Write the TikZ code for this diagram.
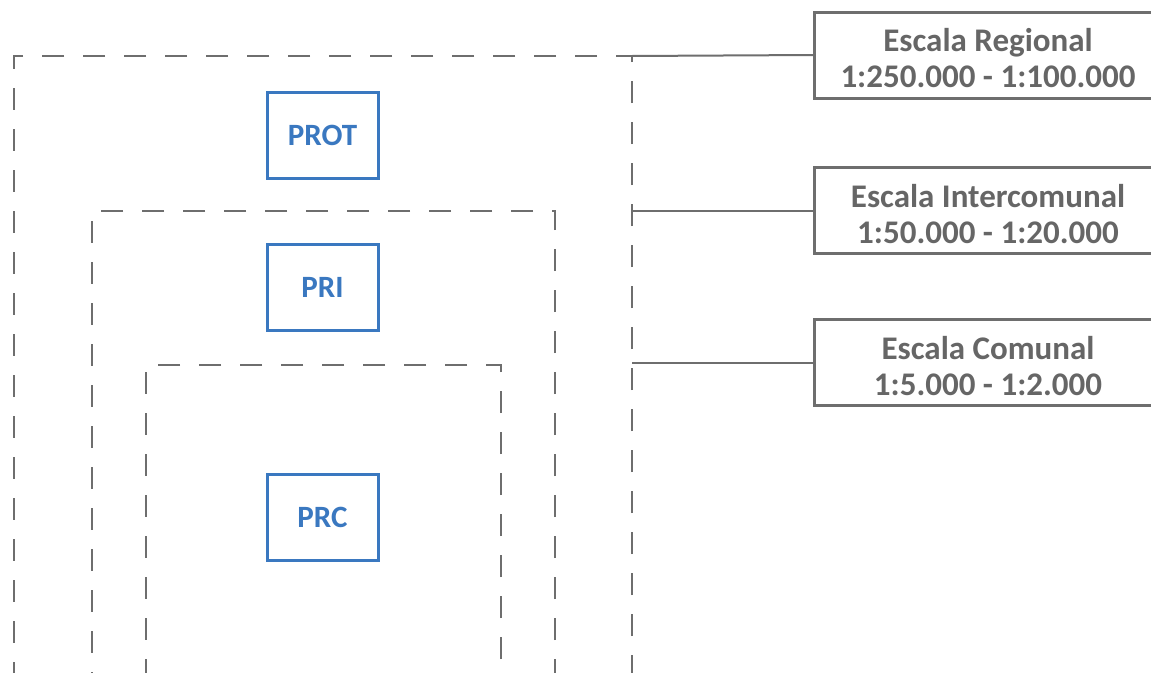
\documentclass[tikz,border=0pt]{standalone}
\usepackage{fontspec}
\setmainfont{Carlito}
\usetikzlibrary{positioning}

\definecolor{framegray}{HTML}{6E6E6E}
\definecolor{textgray}{HTML}{666666}
\definecolor{planblue}{HTML}{3A78C0}

% taller first line pushes the label text a bit down in its box
\newcommand{\lowstrut}{\rule{0pt}{30pt}}

\tikzset{
  frame/.style={draw=framegray, line width=2pt, dash pattern=on 22pt off 19pt,
    anchor=north west, inner sep=0pt, outer sep=0pt},
  scalebox/.style={draw=framegray, line width=3pt, text=textgray, align=center,
    font=\fontsize{33}{36}\selectfont\bfseries, minimum width=348pt,
    minimum height=86pt, inner sep=0pt, outer sep=0pt},
  planbox/.style={draw=planblue, line width=3pt, text=planblue,
    font=\fontsize{31}{34}\selectfont\bfseries, minimum width=111pt,
    minimum height=86pt, inner sep=0pt},
  link/.style={draw=framegray, line width=2pt}
}

\begin{document}
\begin{tikzpicture}[x=1pt,y=-1pt]
			%%%%% START %%%%%
			\def\w{1151}
			\def\h{672}
			\clip (0,0) rectangle (\w,\h);
			\fill[white] (0,0) rectangle (\w,\h);

			% nested plan levels, open at the bottom
			\node[frame, minimum width=618pt, minimum height=700pt] (regframe) at (14,56) {};
			\node[frame, minimum width=463pt, minimum height=540pt] (interframe) at (92,211) {};
			\node[frame, minimum width=355pt, minimum height=390pt] (comframe) at (146,365) {};

			\node[planbox] (prot) at (322.5,135) {PROT};
			\node[planbox] (pri) at (322.5,287) {PRI};
			\node[planbox] (prc) at (322.5,517) {PRC};

			% scale labels
			\node[scalebox] (regional) at (988,55) {\lowstrut Escala Regional\\1:250.000 - 1:100.000};
			\node[scalebox] (intercomunal) at (988,210.5) {\lowstrut Escala Intercomunal\\1:50.000 - 1:20.000};
			\node[scalebox] (comunal) at (988,362.5) {\lowstrut Escala Comunal\\1:5.000 - 1:2.000};

			\draw[link] (regframe.north east) -- (regional.west);
			\draw[link] (regframe.east |- intercomunal.west) -- (intercomunal.west);
			\draw[link] (regframe.east |- comunal.west) -- (comunal.west);
			%%%%% END %%%%%
\end{tikzpicture}
\end{document}
